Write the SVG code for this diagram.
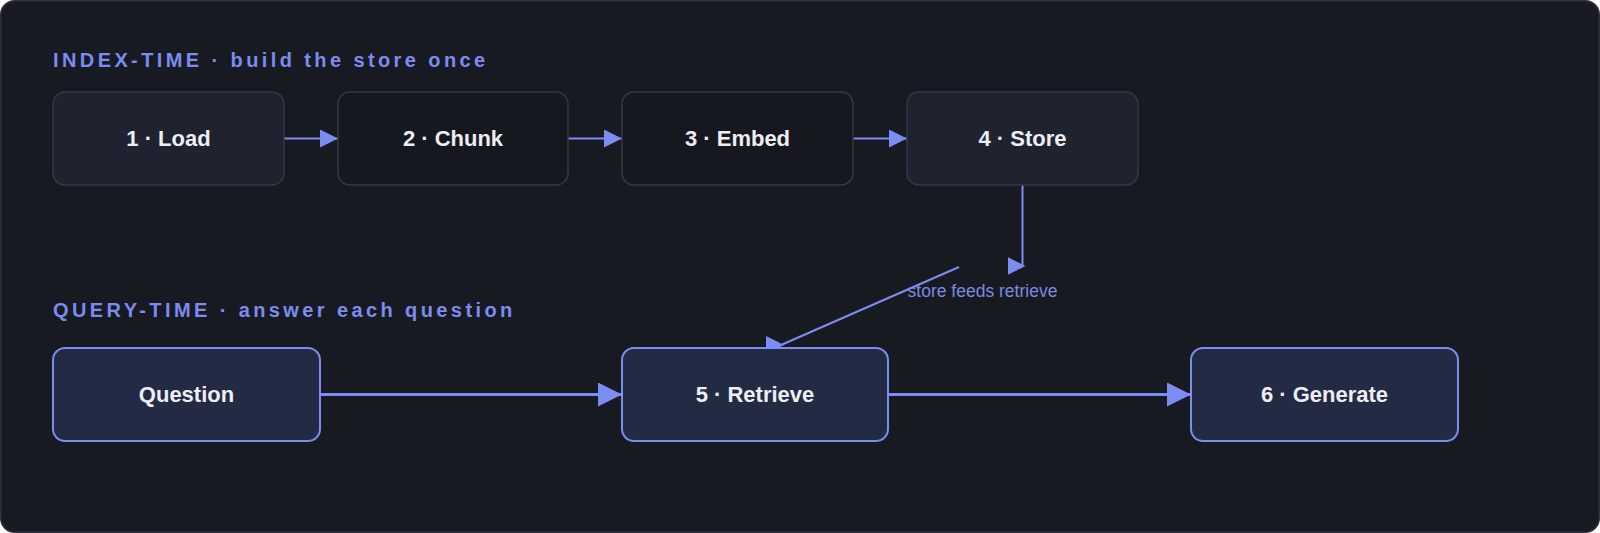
<svg xmlns="http://www.w3.org/2000/svg" width="1600" height="533" viewBox="0 0 1600 533">
  <style>
    .title { font-family: "Liberation Sans", Arial, sans-serif; font-weight: 700; font-size: 20px; letter-spacing: 3.4px; fill: #7b8bf0; }
    .label { font-family: "Liberation Sans", Arial, sans-serif; font-weight: 700; font-size: 22px; fill: #eceef4; text-anchor: middle; dominant-baseline: central; }
    .edge-label { font-family: "Liberation Sans", Arial, sans-serif; font-size: 17.5px; fill: #7b8ae0; text-anchor: middle; }
    .idx { stroke: #343846; stroke-width: 1.5; }
    .idx-hi { fill: #1f2330; }
    .idx-lo { fill: #16181f; }
    .qry { fill: #232a44; stroke: #7b8cf2; stroke-width: 2; }
    .conn { stroke: #7b8cf2; fill: none; }
  </style>
  <defs>
    <marker id="ah" markerUnits="userSpaceOnUse" markerWidth="18" markerHeight="18" refX="18" refY="9" orient="auto">
      <path d="M0,0 L18,9 L0,18 z" fill="#7b8cf2"/>
    </marker>
    <marker id="ahl" markerUnits="userSpaceOnUse" markerWidth="24" markerHeight="24" refX="24" refY="12" orient="auto">
      <path d="M0,0 L24,12 L0,24 z" fill="#7b8cf2"/>
    </marker>
    <marker id="ahr" markerUnits="userSpaceOnUse" markerWidth="18" markerHeight="18" refX="15" refY="9" orient="0">
      <path d="M0,0 L18,9 L0,18 z" fill="#7b8cf2"/>
    </marker>
  </defs>

  <rect x="0.75" y="0.75" width="1598.5" height="531.5" rx="14" fill="#181a22" stroke="#2e323e" stroke-width="1.5"/>

  <text class="title" x="53" y="67">INDEX-TIME · build the store once</text>
  <text class="title" x="53" y="317">QUERY-TIME · answer each question</text>

  <g id="connectors">
    <line class="conn" x1="284" y1="138.5" x2="338" y2="138.5" stroke-width="2" marker-end="url(#ah)"/>
    <line class="conn" x1="568" y1="138.5" x2="622" y2="138.5" stroke-width="2" marker-end="url(#ah)"/>
    <line class="conn" x1="853" y1="138.5" x2="907" y2="138.5" stroke-width="2" marker-end="url(#ah)"/>
    <line class="conn" x1="1022.5" y1="185" x2="1022.5" y2="266" stroke-width="2" marker-end="url(#ahr)"/>
    <line class="conn" x1="959" y1="267" x2="781" y2="345" stroke-width="2" marker-end="url(#ahr)"/>
    <text class="edge-label" x="982.5" y="297">store feeds retrieve</text>
    <line class="conn" x1="320" y1="394.5" x2="622" y2="394.5" stroke-width="3" marker-end="url(#ahl)"/>
    <line class="conn" x1="888" y1="394.5" x2="1191" y2="394.5" stroke-width="3" marker-end="url(#ahl)"/>
  </g>

  <g id="node-load">
    <rect class="idx idx-hi" x="53" y="92" width="231" height="93" rx="12"/>
    <text class="label" x="168.5" y="138.5">1 · Load</text>
  </g>
  <g id="node-chunk">
    <rect class="idx idx-lo" x="338" y="92" width="230" height="93" rx="12"/>
    <text class="label" x="453" y="138.5">2 · Chunk</text>
  </g>
  <g id="node-embed">
    <rect class="idx idx-lo" x="622" y="92" width="231" height="93" rx="12"/>
    <text class="label" x="737.5" y="138.5">3 · Embed</text>
  </g>
  <g id="node-store">
    <rect class="idx idx-hi" x="907" y="92" width="231" height="93" rx="12"/>
    <text class="label" x="1022.5" y="138.5">4 · Store</text>
  </g>

  <g id="node-question">
    <rect class="qry" x="53" y="348" width="267" height="93" rx="12"/>
    <text class="label" x="186.5" y="394.5">Question</text>
  </g>
  <g id="node-retrieve">
    <rect class="qry" x="622" y="348" width="266" height="93" rx="12"/>
    <text class="label" x="755" y="394.5">5 · Retrieve</text>
  </g>
  <g id="node-generate">
    <rect class="qry" x="1191" y="348" width="267" height="93" rx="12"/>
    <text class="label" x="1324.5" y="394.5">6 · Generate</text>
  </g>
</svg>
